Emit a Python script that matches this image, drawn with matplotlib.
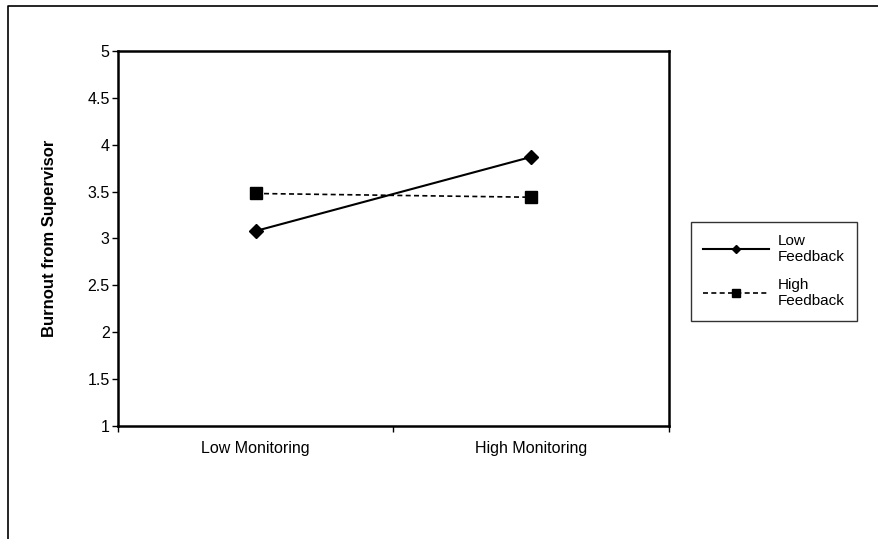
import matplotlib.pyplot as plt
from matplotlib.lines import Line2D

plt.rcParams['font.family'] = ['Liberation Sans', 'DejaVu Sans']

# данні
categories = ['Low Monitoring', 'High Monitoring']
low_feedback = [3.08, 3.87]
high_feedback = [3.48, 3.44]
series_names = ['Low\nFeedback', 'High\nFeedback']
y_ticks = [1, 1.5, 2, 2.5, 3, 3.5, 4, 4.5, 5]
y_labels = ['1', '1.5', '2', '2.5', '3', '3.5', '4', '4.5', '5']

fig = plt.figure(figsize=(8.79, 5.39), dpi=100)
ax = fig.add_axes([0.1342, 0.2097, 0.761 - 0.1342, 0.9054 - 0.2097])

xpos = [i + 0.5 for i in range(len(categories))]
ax.plot(xpos, low_feedback, color='black', lw=1.5, marker='D', markersize=7)
ax.plot(xpos, high_feedback, color='black', lw=1.2, ls=(0, (3, 2)),
        marker='s', markersize=9)

ax.set_xlim(0, len(categories))
ax.set_ylim(1, 5)
ax.set_yticks(y_ticks)
ax.set_yticklabels(y_labels, fontsize=11.5)
ax.set_xticks(range(len(categories) + 1))
ax.set_xticklabels([])
ax.set_xticks(xpos, minor=True)
ax.set_xticklabels(categories, minor=True, fontsize=11.5)
ax.tick_params(axis='x', which='minor', length=0, pad=11)
ax.tick_params(axis='both', which='major', length=4, width=1, direction='out')
ax.tick_params(axis='y', pad=2)
for s in ax.spines.values():
    s.set_linewidth(1.8)
ax.set_ylabel('Burnout from Supervisor', fontsize=12, fontweight='bold')
ax.yaxis.set_label_coords(-0.11, 0.5)

# легенда
handles = [Line2D([], [], color='black', lw=1.5, marker='D', markersize=4),
           Line2D([], [], color='black', lw=1.2, ls=(0, (3, 2)), marker='s', markersize=6)]
leg = fig.legend(handles, series_names, loc='upper left',
                 bbox_to_anchor=(691 / 879, 1 - 222 / 539), borderaxespad=0,
                 fontsize=11, frameon=True, fancybox=False, edgecolor='black',
                 handlelength=4.3, handletextpad=0.6, labelspacing=0.9,
                 borderpad=0.8)
leg.get_frame().set_linewidth(1)

# рамка
fig.add_artist(Line2D([8 / 879, 8 / 879, 1], [0, 1 - 6 / 539, 1 - 6 / 539],
                      transform=fig.transFigure, color='black', lw=1.2))

fig.savefig('out.png', dpi=100)
